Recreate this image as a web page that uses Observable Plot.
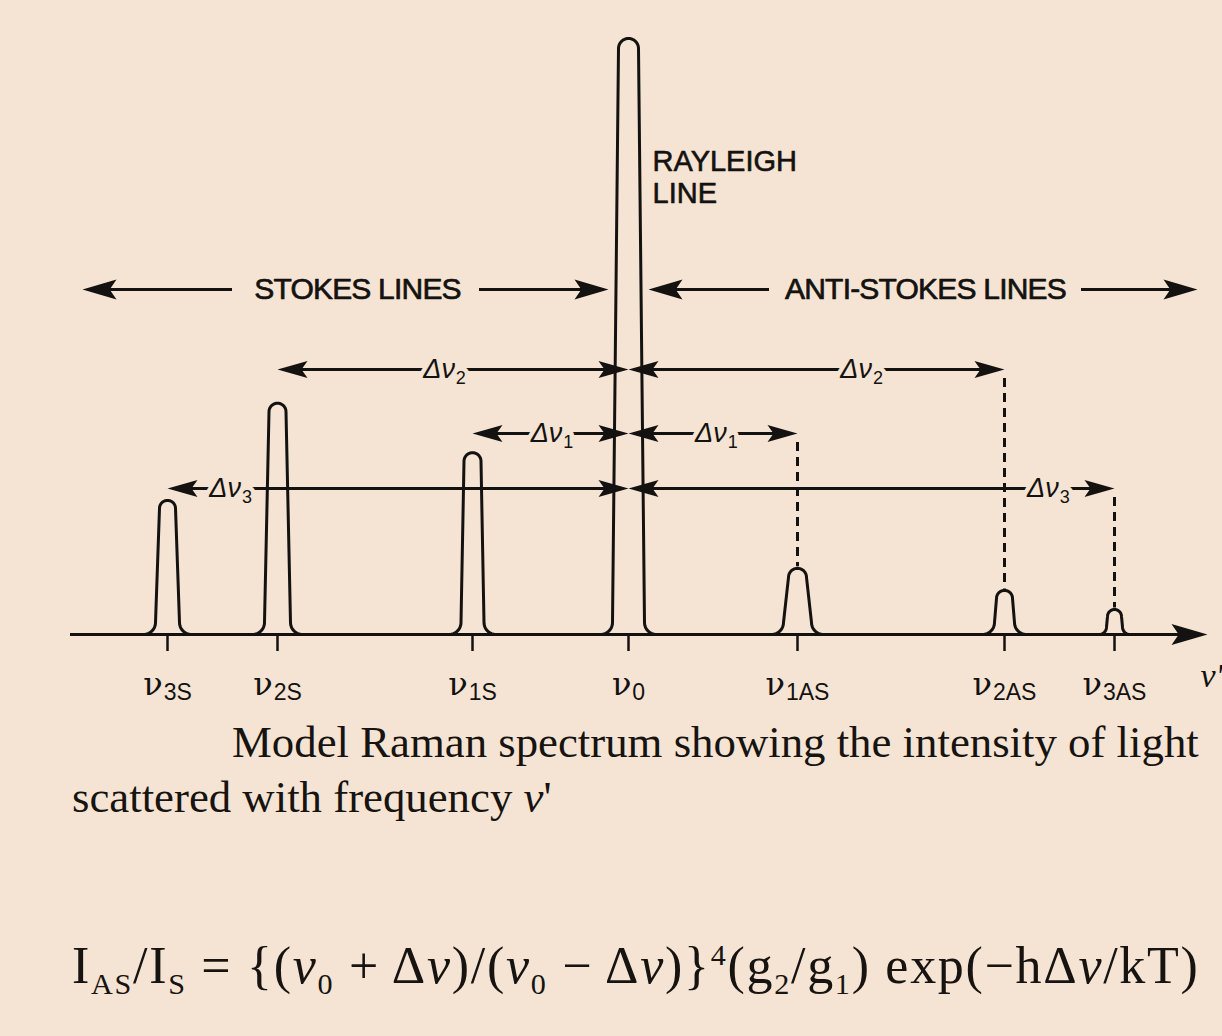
<!DOCTYPE html>
<html><head><meta charset="utf-8">
<script src="https://cdn.jsdelivr.net/npm/d3@7"></script>
<script src="https://cdn.jsdelivr.net/npm/@observablehq/plot@0.6"></script>
<style>
html,body{margin:0;padding:0;background:#f5e4d3;}
#wrap{position:relative;width:1222px;height:1036px;overflow:hidden;}
#chart{position:absolute;left:0;top:0;}
.cap{position:absolute;left:72px;white-space:nowrap;font-family:"Liberation Serif","DejaVu Serif",serif;color:#161310;}
#caption{top:715px;font-size:44.8px;line-height:55px;}
#formula{top:936px;font-size:52px;line-height:60px;letter-spacing:1.7px;}
.cap sub,.cap sup{line-height:0;font-size:0.58em;}
</style></head><body>
<div id="wrap"><div id="chart"></div>
<div id="caption" class="cap"><span style="display:inline-block;width:160px"></span>Model Raman spectrum showing the intensity of light<br>scattered with frequency <i>ν</i>'</div>
<div id="formula" class="cap">I<sub>AS</sub>/I<sub>S</sub> = {(<i>ν</i><sub>0</sub> + Δ<i>ν</i>)/(<i>ν</i><sub>0</sub> − Δ<i>ν</i>)}<sup>4</sup>(g<sub>2</sub>/g<sub>1</sub>) exp(−hΔ<i>ν</i>/kT)</div>
</div>
<script>
// ---- data ----
const peakLabels = ["ν_3S", "ν_2S", "ν_1S", "ν_0", "ν_1AS", "ν_2AS", "ν_3AS"];
const peakShift = [-461, -351, -156, 0, 169, 376, 486];          // position relative to ν0
const peakIntensity = [22.5, 38.8, 30.5, 100, 11.1, 7.4, 4.2];     // relative intensity (Rayleigh = 100)
const peakTopHalfWidth = [8, 8.5, 8.5, 10, 9, 8, 7];
const peakBaseHalfWidth = [12, 13, 11.5, 16, 14, 10, 8];
const shiftLabels = ["Δν_1", "Δν_2", "Δν_3"];
const stokesIdx = [2, 1, 0];      // ν1S, ν2S, ν3S
const antiIdx = [4, 5, 6];        // ν1AS, ν2AS, ν3AS
const regionLabels = ["STOKES LINES", "ANTI-STOKES LINES", "RAYLEIGH\nLINE"];
const axisName = "ν'";

// ---- layout ----
const BG = "#f5e4d3", INK = "#141210";
const W = 1222, H = 720, baseY = 634, topY = 38;
const K = (baseY - topY) / 100;            // px per intensity unit
const rowY = px => (baseY - px) / K;       // annotation rows expressed in intensity units
const rows = {stokes: rowY(289), d: [rowY(433), rowY(369), rowY(488)]};
const labelFracS = [0.49, 0.524, 0.863];
const labelFracAS = [0.52, 0.62, 0.864];
const BIG = {L: 34, W: 10}, SMALL = {L: 30, W: 8.5}, AXIS = {L: 36, W: 10.5};

// peak outlines (shape template: rounded top, straight flanks, flared foot)
const outline = [];
peakShift.forEach((c, i) => {
  const hp = peakIntensity[i] * K, wt = peakTopHalfWidth[i], wb = peakBaseHalfWidth[i];
  const R = Math.min(12, 0.3 * hp), n = 12;
  const right = [];
  for (let j = 0; j <= n; j++) { const a = Math.PI / 2 * j / n; right.push([wt * Math.sin(a), hp - wt * (1 - Math.cos(a))]); }
  for (let j = 0; j <= n; j++) { const a = Math.PI / 2 * j / n; right.push([wb + R - R * Math.cos(a), R - R * Math.sin(a)]); }
  right.push([wb + R + 4, 0]);
  const left = right.slice().reverse().map(([dx, y]) => [-dx, y]);
  left.concat(right.slice(1)).forEach(([dx, y]) => outline.push({name: peakLabels[i], x: c + dx, y: y / K}));
});

// arrows
const segs = [], tips = [];
function addArrow(xa, xb, y, h, gap) {
  const a = xa + h.L * 0.5, b = xb - h.L * 0.5;
  if (gap) { segs.push({x1: a, x2: gap[0], y}); segs.push({x1: gap[1], x2: b, y}); }
  else segs.push({x1: a, x2: b, y});
  tips.push({x: xa, y, dir: -1, h});
  tips.push({x: xb, y, dir: 1, h});
}
const regionCenter = [-271, 297];
addArrow(-546, -20, rows.stokes, BIG, [regionCenter[0] - 125, regionCenter[0] + 122]);
addArrow(20, 569, rows.stokes, BIG, [regionCenter[1] - 156, regionCenter[1] + 156]);
const dLabels = [], dashes = [];
shiftLabels.forEach((lab, k) => {
  const y = rows.d[k], xs = peakShift[stokesIdx[k]], xa = peakShift[antiIdx[k]];
  addArrow(xs, 0, y, SMALL);
  addArrow(0, xa, y, SMALL);
  dLabels.push({x: xs * labelFracS[k], y, text: lab});
  dLabels.push({x: xa * labelFracAS[k], y, text: lab});
  dashes.push({x: xa, y1: y - 9 / K, y2: peakIntensity[antiIdx[k]] + 1.5 / K});
});

function arrowSym(dir, L, Wd) {
  return {draw(ctx) {
    ctx.moveTo(0, 0);
    ctx.lineTo(-dir * L, -Wd);
    ctx.lineTo(-dir * L * 0.8, 0);
    ctx.lineTo(-dir * L, Wd);
    ctx.closePath();
  }};
}
const headMarks = [BIG, SMALL].flatMap(h => [-1, 1].map(dir =>
  Plot.dot(tips.filter(t => t.h === h && t.dir === dir), {x: "x", y: "y", symbol: arrowSym(dir, h.L, h.W), fill: INK, stroke: "none"})));

const svg = Plot.plot({
  width: W, height: H,
  marginLeft: 0, marginRight: 0, marginTop: topY, marginBottom: H - baseY,
  x: {domain: [-628, 594]},
  y: {domain: [0, 100], axis: null},
  style: {background: "transparent", color: INK, fontFamily: "'Liberation Sans', Arial, sans-serif", overflow: "visible"},
  marks: [
    Plot.ruleY([0], {x1: -558, x2: 560, stroke: INK, strokeWidth: 3.2}),
    Plot.dot([{x: 579, y: 0}], {x: "x", y: "y", symbol: arrowSym(1, AXIS.L, AXIS.W), fill: INK, stroke: "none"}),
    Plot.axisX(peakShift, {tickFormat: d => peakLabels[peakShift.indexOf(d)], tickSize: 17, tickPadding: 19, fontSize: 34, strokeWidth: 2.5, label: null}),
    Plot.ruleY(segs, {x1: "x1", x2: "x2", y: "y", stroke: INK, strokeWidth: 3.2}),
    Plot.ruleX(dashes, {x: "x", y1: "y1", y2: "y2", stroke: INK, strokeWidth: 3, strokeDasharray: "9,6"}),
    ...headMarks,
    Plot.text(regionLabels.slice(0, 2), {x: (d, i) => regionCenter[i], y: rows.stokes, text: d => d, fontSize: 30, fill: INK, stroke: INK, strokeWidth: 0.7}),
    Plot.text(dLabels, {x: "x", y: "y", text: "text", fontSize: 27, fontStyle: "italic", fill: INK, stroke: BG, strokeWidth: 9, paintOrder: "stroke", strokeLinejoin: "round"}),
    Plot.text([regionLabels[2]], {x: 24, y: rowY(148), text: d => d, fontSize: 29, lineAnchor: "top", lineHeight: 1.1, textAnchor: "start", fill: INK, stroke: INK, strokeWidth: 0.6}),
    Plot.text([axisName], {x: 572, y: rowY(676), text: d => d, fontSize: 34, fontStyle: "italic", fontFamily: "'Liberation Serif', serif", textAnchor: "start", fill: INK}),
    Plot.line(outline, {x: "x", y: "y", z: "name", stroke: INK, strokeWidth: 3, strokeLinejoin: "round"})
  ]
});

// subscripts and spacing as real text (tspans)
d3.select(svg).selectAll("text").each(function() {
  const s = this.textContent;
  if (s === "STOKES LINES" || s === "ANTI-STOKES LINES") this.setAttribute("letter-spacing", "-0.8");
  if (!s.includes("_") || this.querySelector("tspan")) return;
  const [base, sub] = s.split("_");
  const t = d3.select(this).text(null);
  if (base.startsWith("Δ")) {
    t.append("tspan").text(base);
    t.append("tspan").attr("dy", "0.3em").attr("dx", "1").attr("font-size", 18).attr("font-style", "normal").text(sub);
  } else {
    t.append("tspan").attr("font-family", "'DejaVu Serif', serif").attr("font-size", 32).text(base);
    t.append("tspan").attr("dy", "0.22em").attr("dx", "1").attr("font-size", 23).text(sub);
  }
});
document.getElementById("chart").append(svg);
</script>
</body></html>
